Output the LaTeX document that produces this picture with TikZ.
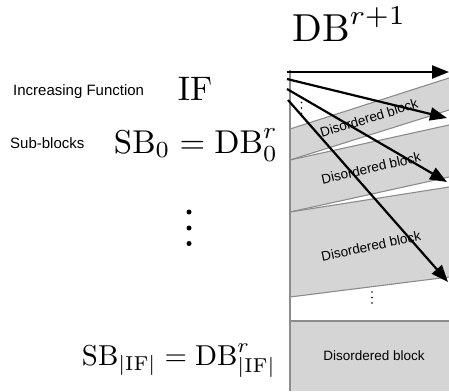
\RequirePackage{fix-cm}
\documentclass[tikz,border=0pt]{standalone}
\usepackage{graphicx}
\usepackage{fontspec}
\newfontfamily\hv{Liberation Sans}
\usetikzlibrary{arrows.meta}
\definecolor{bandgray}{RGB}{213,213,213}
\definecolor{edgegray}{RGB}{140,140,140}
\begin{document}
\begin{tikzpicture}[x=1pt,y=-1pt,
  edge/.style={draw=edgegray, line width=1.1pt},
  lbl/.style={font=\hv\fontsize{13.5}{16}\selectfont, inner sep=0pt},
  side/.style={font=\hv\fontsize{15}{18}\selectfont, inner sep=0pt},
  mth/.style={inner sep=0pt},
  arr/.style={line width=2.2pt, -{Triangle[length=17pt,width=13pt]}},
  dot/.style={fill=black, circle, inner sep=0pt, minimum size=#1}]
\useasboundingbox (0,0) rectangle (449,391);
% bands
\fill[bandgray] (290,129) -- (449,78) -- (449,110) -- (290,160) -- cycle;
\fill[bandgray] (290,160) -- (449,125) -- (449,177) -- (290,212) -- cycle;
\fill[bandgray] (290,212) -- (449,187) -- (449,277) -- (290,297) -- cycle;
\fill[bandgray] (290,321) rectangle (449,391);
\draw[edge] (290,129) -- (449,78);
\draw[edge] (290,160) -- (449,110);
\draw[edge] (290,160) -- (449,125);
\draw[edge] (290,212) -- (449,177);
\draw[edge] (290,212) -- (449,187);
\draw[edge] (290,297) -- (449,277);
\draw[edge] (290,321) -- (449,321);
\draw[edge] (290,70) -- (290,391);
% band labels
\node[lbl, rotate=17] (l1) at (369,118) {Disordered block};
\node[lbl, rotate=13] (l2) at (371,168) {Disordered block};
\node[lbl, rotate=12] (l3) at (371,246) {Disordered block};
\node[lbl] (l4) at (374,356) {Disordered block};
% small dots
\node[dot=1.6pt] (a1) at (301.5,102.5) {};
\node[dot=1.6pt] (a2) at (301.5,108) {};
\node[dot=1.6pt] (a3) at (301.5,113.5) {};
\node[dot=1.6pt] (b1) at (372,292) {};
\node[dot=1.6pt] (b2) at (372,297.5) {};
\node[dot=1.6pt] (b3) at (372,303) {};
% big dots
\node[dot=5pt] (c1) at (189,212) {};
\node[dot=5pt] (c2) at (189,228) {};
\node[dot=5pt] (c3) at (189,243.5) {};
% arrows
\coordinate (s1) at (287,72);   \coordinate (e1) at (449,72);
\coordinate (s2) at (287,79);   \coordinate (e2) at (447,118);
\coordinate (s3) at (287,89);   \coordinate (e3) at (447,182);
\coordinate (s4) at (288,100);  \coordinate (e4) at (448,282);
\draw[arr] (s1) -- (e1);
\draw[arr] (s2) -- (e2);
\draw[arr] (s3) -- (e3);
\draw[arr] (s4) -- (e4);
% texts
\node[side, anchor=base west] (inc) at (13,95) {Increasing Function};
\node[side, anchor=base west] (sub) at (10,148) {Sub-blocks};
\node[mth, anchor=base west] (db) at (292,41) {\scalebox{3.9}{$\mathrm{DB}^{r+1}$}};
\node[mth, anchor=base] (if) at (195,100) {\scalebox{3.4}{$\mathrm{IF}$}};
\node[mth, anchor=base east] (sb0) at (278,153) {\scalebox{3.3}{$\mathrm{SB}_0=\mathrm{DB}_0^r$}};
\node[mth, anchor=base east] (sbn) at (276,365) {\scalebox{2.88}{$\mathrm{SB}_{|\mathrm{IF}|}=\mathrm{DB}_{|\mathrm{IF}|}^r$}};
\end{tikzpicture}
\end{document}
